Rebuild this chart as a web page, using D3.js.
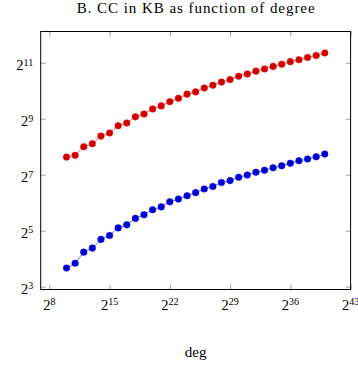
<!DOCTYPE html>
<html>
<head>
<meta charset="utf-8">
<script src="https://cdn.jsdelivr.net/npm/d3@7"></script>
<style>
body { margin: 0; background: #fff; }
text { font-family: "Liberation Serif", "Times New Roman", serif; fill: #000; }
</style>
</head>
<body>
<div id="chartDiv"></div>
<script>
// degree exponents (degree = 2^e) and CC size in KB for both curves
var degExp = [10, 11, 12, 13, 14, 15, 16, 17, 18, 19, 20, 21, 22, 23, 24, 25,
	26, 27, 28, 29, 30, 31, 32, 33, 34, 35, 36, 37, 38, 39, 40];
var ccRed = [198, 207, 256, 276, 333, 360, 431, 461, 537, 576, 653, 704, 781, 849, 942, 996,
	1098, 1176, 1270, 1351, 1468, 1552, 1664, 1758, 1872, 1978, 2106, 2211, 2337, 2453, 2610];
var ccBlue = [12.7, 14.3, 18.8, 20.8, 25.8, 28.4, 34.3, 37.0, 43.4, 47.5, 53.8, 57.7, 65.4, 70.0, 76.1, 82.1,
	89.9, 95.7, 105.4, 110.6, 120.3, 127.1, 136.2, 143.0, 152.2, 159.8, 170.1, 181.0, 188.7, 199.5, 213.8];
var xTickExp = [8, 15, 22, 29, 36, 43];
var yTickExp = [3, 5, 7, 9, 11];
var titleText = "B. CC in KB as function of degree";
var xLabelText = "deg";

function drawChart() {
	document.getElementById("chartDiv").innerHTML = "";

	var margin = {top: 31.5, right: 7.4, bottom: 77.5, left: 40.7},
	    width = 358 - margin.left - margin.right,
	    height = 367 - margin.top - margin.bottom;

	var series = [
		{name: "red", values: ccRed, line: "#ff0000", fill: "#cc0000"},
		{name: "blue", values: ccBlue, line: "#0000ff", fill: "#0000cc"}
	];

	// pgfplots style: enlarge limits by 10% of the (log) range
	function enlarge(lo, hi) {
		var r = hi - lo;
		return [lo - 0.1 * r, hi + 0.1 * r];
	}
	var xExt = enlarge(d3.min(degExp), d3.max(degExp));
	var allY = ccRed.concat(ccBlue);
	var yExt = enlarge(Math.log2(d3.min(allY)), Math.log2(d3.max(allY)));

	var x = d3.scaleLog().base(2)
		.domain([Math.pow(2, xExt[0]), Math.pow(2, xExt[1])])
		.range([0, width]);
	var y = d3.scaleLog().base(2)
		.domain([Math.pow(2, yExt[0]), Math.pow(2, yExt[1])])
		.range([height, 0]);

	var svg = d3.select("#chartDiv").append("svg")
		.attr("width", 358)
		.attr("height", 367)
		.append("g")
		.attr("transform", "translate(" + margin.left + "," + margin.top + ")");

	var xTicks = xTickExp.map(function(e) { return Math.pow(2, e); });
	var yTicks = yTickExp.map(function(e) { return Math.pow(2, e); });

	// tick marks point inward on all four sides
	svg.append("g")
		.attr("class", "axis axis--x")
		.attr("transform", "translate(0," + height + ")")
		.call(d3.axisBottom(x).tickValues(xTicks).tickSizeInner(-5).tickSizeOuter(0).tickFormat(""));
	svg.append("g")
		.attr("class", "axis axis--xtop")
		.call(d3.axisTop(x).tickValues(xTicks).tickSizeInner(-5).tickSizeOuter(0).tickFormat(""));
	svg.append("g")
		.attr("class", "axis axis--y")
		.call(d3.axisLeft(y).tickValues(yTicks).tickSizeInner(-5).tickSizeOuter(0).tickFormat(""));
	svg.append("g")
		.attr("class", "axis axis--yright")
		.attr("transform", "translate(" + width + ",0)")
		.call(d3.axisRight(y).tickValues(yTicks).tickSizeInner(-5).tickSizeOuter(0).tickFormat(""));

	svg.selectAll(".axis .domain").remove();
	svg.selectAll(".axis .tick line")
		.attr("stroke", "#888")
		.attr("stroke-width", 0.8);

	// frame
	svg.append("rect")
		.attr("width", width)
		.attr("height", height)
		.attr("fill", "none")
		.attr("stroke", "#000")
		.attr("stroke-width", 1);

	// tick labels as 2^e with real superscripts
	function powLabel(sel, e) {
		sel.append("tspan").text("2");
		sel.append("tspan")
			.attr("dy", "-0.45em")
			.attr("font-size", "10px")
			.text(e);
	}

	svg.append("g").selectAll("text")
		.data(xTickExp)
		.enter().append("text")
		.attr("x", function(e) { return x(Math.pow(2, e)); })
		.attr("y", height + 20)
		.attr("text-anchor", "middle")
		.attr("font-size", "14.5px")
		.each(function(e) { powLabel(d3.select(this), e); });

	svg.append("g").selectAll("text")
		.data(yTickExp)
		.enter().append("text")
		.attr("x", -7.5)
		.attr("y", function(e) { return y(Math.pow(2, e)) + 7.3; })
		.attr("text-anchor", "end")
		.attr("font-size", "14.5px")
		.each(function(e) { powLabel(d3.select(this), e); });

	// lines and markers
	var line = d3.line()
		.x(function(d) { return x(Math.pow(2, d.e)); })
		.y(function(d) { return y(d.v); });

	series.forEach(function(s) {
		var pts = degExp.map(function(e, i) { return {e: e, v: s.values[i]}; });
		svg.append("path")
			.datum(pts)
			.attr("fill", "none")
			.attr("stroke", s.line)
			.attr("stroke-width", 0.6)
			.attr("d", line);
		svg.append("g").selectAll("circle")
			.data(pts)
			.enter().append("circle")
			.attr("cx", function(d) { return x(Math.pow(2, d.e)); })
			.attr("cy", function(d) { return y(d.v); })
			.attr("r", 3.3)
			.attr("fill", s.fill)
			.attr("stroke", s.line)
			.attr("stroke-width", 0.5);
	});

	// title and axis label (serif with a little extra spacing, like the wide TeX font)
	svg.append("text")
		.attr("x", width / 2 + 0.5)
		.attr("y", -18.5)
		.attr("text-anchor", "middle")
		.attr("font-size", "15px")
		.attr("letter-spacing", "0.95px")
		.text(titleText);

	svg.append("text")
		.attr("x", width / 2)
		.attr("y", height + 67)
		.attr("text-anchor", "middle")
		.attr("font-size", "15px")
		.text(xLabelText);
}

drawChart();
</script>
</body>
</html>
